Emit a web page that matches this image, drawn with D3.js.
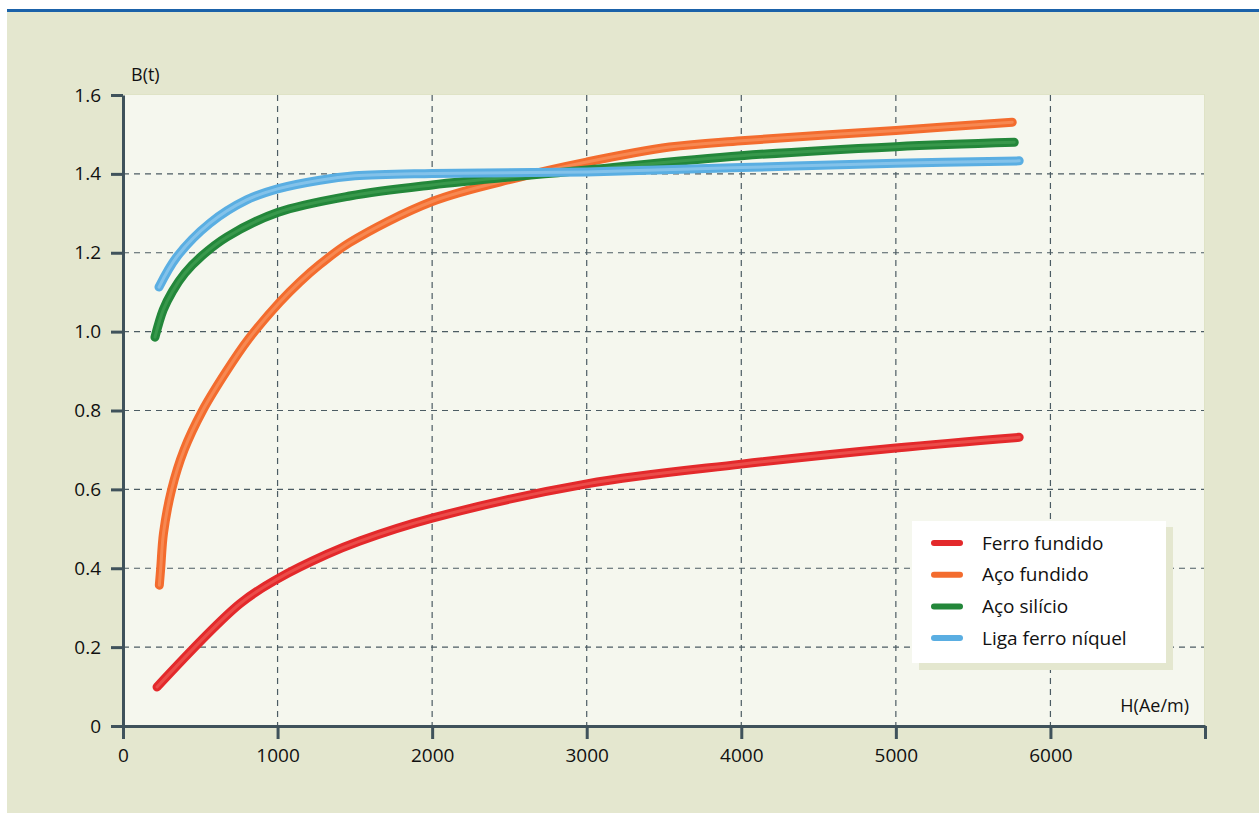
<!DOCTYPE html>
<html>
<head>
<meta charset="utf-8">
<script src="https://cdn.jsdelivr.net/npm/d3@7"></script>
<style>
  body { margin: 0; background: #fff; }
  text { font-family: "Open Sans", "Noto Sans", sans-serif; fill: #111; }
</style>
</head>
<body>
<div id="chart"></div>
<script>
// data: [H (Ae/m), B (t)]
const seriesNames = ['Ferro fundido', 'Aço fundido', 'Aço silício', 'Liga ferro níquel'];
const seriesColors = ['#e3292b', '#f36c2e', '#23873a', '#5aaee2'];
const seriesHighlight = ['#f26a62', '#f9a06f', '#4aa65a', '#a6d3f1'];

const ferroFundido = [[220, 0.099], [756, 0.31], [1000, 0.373], [1318, 0.435], [1532, 0.469], [2000, 0.527], [3000, 0.614], [4000, 0.664], [5000, 0.705], [5798, 0.732]];
const acoFundido = [[235, 0.357], [244, 0.4], [262, 0.489], [315, 0.6], [395, 0.7], [515, 0.8], [670, 0.9], [810, 0.98], [1015, 1.075], [1144, 1.126], [1273, 1.17], [1467, 1.226], [2000, 1.33], [2547, 1.39], [3000, 1.43], [3536, 1.468], [4000, 1.484], [5000, 1.51], [5753, 1.531]];
const acoSilicio = [[207, 0.986], [260, 1.055], [320, 1.102], [400, 1.148], [510, 1.192], [672, 1.24], [1000, 1.302], [1467, 1.344], [2000, 1.372], [3000, 1.41], [4000, 1.446], [5000, 1.469], [5766, 1.48]];
const ligaFerroNiquel = [[233, 1.113], [349, 1.19], [562, 1.275], [800, 1.334], [1000, 1.362], [1273, 1.384], [1500, 1.395], [2000, 1.401], [3000, 1.405], [4000, 1.416], [5000, 1.427], [5798, 1.433]];
const allSeries = [ferroFundido, acoFundido, acoSilicio, ligaFerroNiquel];

const xTicks = [0, 1000, 2000, 3000, 4000, 5000, 6000];
const yTicks = [0, 0.2, 0.4, 0.6, 0.8, 1.0, 1.2, 1.4, 1.6];

const width = 1259, height = 813;
const margin = { top: 95, right: 54, bottom: 87, left: 123 };

const svg = d3.select('#chart').append('svg')
  .attr('width', width)
  .attr('height', height);

// page background
svg.append('rect').attr('x', 7).attr('y', 10).attr('width', width - 7).attr('height', height - 10).attr('fill', '#e4e7cf');
svg.append('rect').attr('x', 7).attr('y', 9).attr('width', width - 7).attr('height', 3).attr('fill', '#1b62a9');

const x = d3.scaleLinear().domain([0, 7000]).range([margin.left, width - margin.right]);
const y = d3.scaleLinear().domain([0, 1.6]).range([height - margin.bottom, margin.top]);

// plot area
svg.append('rect')
  .attr('x', x(0)).attr('y', y(1.6) - 1)
  .attr('width', x(7000) - x(0)).attr('height', y(0) - y(1.6) + 1)
  .attr('fill', '#dfe3c6');
svg.append('rect')
  .attr('x', x(0)).attr('y', y(1.6))
  .attr('width', x(7000) - x(0) - 1).attr('height', y(0) - y(1.6))
  .attr('fill', '#f5f7ee');

// grid
const grid = svg.append('g').attr('stroke', '#4c5c63').attr('stroke-width', 1.2).attr('stroke-dasharray', '6,5');
grid.selectAll('.vg').data(xTicks.filter(d => d > 0)).enter().append('line')
  .attr('x1', d => x(d)).attr('x2', d => x(d))
  .attr('y1', y(1.6)).attr('y2', y(0));
grid.selectAll('.hg').data(yTicks.filter(d => d > 0 && d < 1.6)).enter().append('line')
  .attr('x1', x(0)).attr('x2', x(7000) - 1)
  .attr('y1', d => y(d)).attr('y2', d => y(d));

// axes
const axisColor = '#3f525b';
const xAxis = svg.append('g')
  .attr('transform', 'translate(0,' + y(0) + ')')
  .call(d3.axisBottom(x).tickValues(xTicks.concat([7000])).tickSize(13).tickSizeOuter(0).tickFormat(d => d === 7000 ? '' : d));
xAxis.select('.domain').attr('stroke', axisColor).attr('stroke-width', 3);
xAxis.selectAll('.tick line').attr('stroke', axisColor).attr('stroke-width', 3);
xAxis.selectAll('.tick text').attr('font-size', 19).attr('dy', '1.05em').attr('fill', '#111');

const yAxis = svg.append('g')
  .attr('transform', 'translate(' + x(0) + ',0)')
  .call(d3.axisLeft(y).tickValues(yTicks).tickSize(12).tickSizeOuter(0)
    .tickFormat(d => d === 0 ? '0' : d3.format('.1f')(d)));
yAxis.select('.domain').attr('stroke', axisColor).attr('stroke-width', 3);
yAxis.selectAll('.tick line').attr('stroke', axisColor).attr('stroke-width', 3);
yAxis.selectAll('.tick text').attr('font-size', 19).attr('x', -22).attr('fill', '#111');

// axis titles
svg.append('text').attr('x', 131).attr('y', 81).attr('font-size', 18).text('B(t)');
svg.append('text').attr('x', 1189).attr('y', 712).attr('font-size', 18).attr('text-anchor', 'end').text('H(Ae/m)');

// curves
const line = d3.line()
  .x(d => x(d[0]))
  .y(d => y(d[1]))
  .curve(d3.curveCatmullRom.alpha(0.5));

const curves = svg.append('g');
allSeries.forEach((s, i) => {
  curves.append('path')
    .attr('d', line(s))
    .attr('fill', 'none')
    .attr('stroke', seriesColors[i])
    .attr('stroke-width', 9)
    .attr('stroke-linecap', 'round');
  curves.append('path')
    .attr('d', line(s))
    .attr('fill', 'none')
    .attr('stroke', seriesHighlight[i])
    .attr('stroke-width', 3)
    .attr('stroke-opacity', 0.55)
    .attr('stroke-linecap', 'round');
});

// legend
const legend = svg.append('g').attr('transform', 'translate(912,521)');
legend.append('rect').attr('x', 7).attr('y', 6).attr('width', 254).attr('height', 143).attr('fill', '#e4e7cf');
legend.append('rect').attr('x', 0).attr('y', 0).attr('width', 254).attr('height', 142).attr('fill', '#ffffff');
const items = legend.selectAll('.item').data(seriesNames).enter().append('g')
  .attr('transform', (d, i) => 'translate(0,' + (22 + i * 31.7) + ')');
items.append('line')
  .attr('x1', 22).attr('x2', 48)
  .attr('stroke', (d, i) => seriesColors[i])
  .attr('stroke-width', 6)
  .attr('stroke-linecap', 'round');
items.append('text')
  .attr('x', 70).attr('dy', '0.35em')
  .attr('font-size', 19)
  .text(d => d);
</script>
</body>
</html>
